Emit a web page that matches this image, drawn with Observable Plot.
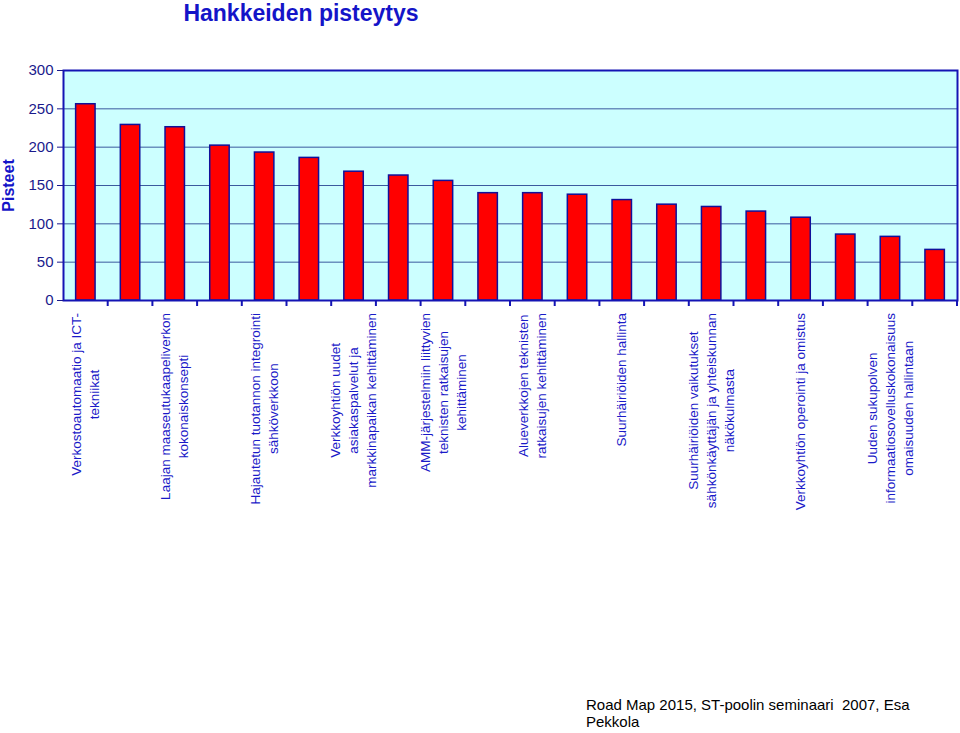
<!DOCTYPE html>
<html><head><meta charset="utf-8">
<script src="https://cdn.jsdelivr.net/npm/d3@7"></script>
<script src="https://cdn.jsdelivr.net/npm/@observablehq/plot@0.6"></script>
<style>
body{margin:0;background:#fff;font-family:Arial,"Liberation Sans",sans-serif;}
#wrap{position:relative;width:960px;height:733px;overflow:hidden;}
#chart{position:absolute;left:0;top:0;}
#title{position:absolute;left:0;width:602px;top:0;text-align:center;font-weight:bold;font-size:23px;color:#1414c8;line-height:26px;}
#caption{position:absolute;left:586px;top:696px;font-size:15px;line-height:17px;color:#000;white-space:pre;}
</style></head>
<body>
<div id="wrap"><div id="chart"></div><div id="title">Hankkeiden pisteytys</div><div id="caption">Road Map 2015, ST-poolin seminaari  2007, Esa
Pekkola</div></div>
<script>
// Project ids (20 bars, sorted by score)
const categories = ["H01","H02","H03","H04","H05","H06","H07","H08","H09","H10",
                    "H11","H12","H13","H14","H15","H16","H17","H18","H19","H20"];
// Scores
const scores = [256, 229, 226, 202, 193, 186, 168, 163, 156, 140,
                140, 138, 131, 125, 122, 116, 108, 86, 83, 66];
// Tick labels (only every other category is labelled in the original)
const tickLabels = [
  "Verkostoautomaatio ja ICT-\ntekniikat", "",
  "Laajan maaseutukaapeliverkon\nkokonaiskonsepti", "",
  "Hajautetun tuotannon integrointi\nsähköverkkoon", "",
  "Verkkoyhtiön uudet\nasiakaspalvelut ja\nmarkkinapaikan kehittäminen", "",
  "AMM-järjestelmiin liittyvien\nteknisten ratkaisujen\nkehittäminen", "",
  "Alueverkkojen teknisten\nratkaisujen kehittäminen", "",
  "Suurhäiriöiden hallinta", "",
  "Suurhäiriöiden vaikutukset\nsähkönkäyttäjän ja yhteiskunnan\nnäkökulmasta", "",
  "Verkkoyhtiön operointi ja omistus", "",
  "Uuden sukupolven\ninformaatiosovelluskokonaisuus\nomaisuuden hallintaan", ""
];
const yTicks = [0, 50, 100, 150, 200, 250, 300];

const data = categories.map((id, i) => ({id, score: scores[i]}));

const BLUE = "#1414b4";
const LABEL_COLOR = "#1a1ac8";
const LABEL_FONT = 13.5;
const LINE_H = 18;
const FONT = "Arial, 'Liberation Sans', sans-serif";

function xLabels(...args) {
  let scales, dimensions;
  if (args[0] && typeof args[0].x === "function") { scales = args[0]; dimensions = args[1]; }
  else { scales = args[1]; dimensions = args[3]; }
  const x = scales.x;
  const bw = x.bandwidth ? x.bandwidth() : 0;
  const step = x.step ? x.step() : bw;
  const yAxis = dimensions.height - dimensions.marginBottom;
  const ctx = document.createElement("canvas").getContext("2d");
  ctx.font = `${LABEL_FONT}px Arial, 'Liberation Sans', sans-serif`;
  const g = d3.create("svg:g");
  // separator ticks between categories
  const first = x(categories[0]) - (step - bw) / 2;
  const ticks = g.append("g").attr("stroke", BLUE).attr("stroke-width", 2);
  for (let i = 1; i <= categories.length; i++) {
    const xb = first + i * step;
    ticks.append("line").attr("x1", xb).attr("x2", xb).attr("y1", yAxis).attr("y2", yAxis + 6);
  }
  const tg = g.append("g").attr("font-family", FONT).attr("font-size", LABEL_FONT)
    .attr("fill", LABEL_COLOR).attr("text-anchor", "middle");
  const y0 = yAxis + 13;
  categories.forEach((c, i) => {
    const lab = tickLabels[i];
    if (!lab) return;
    const lines = lab.split("\n");
    const maxLen = d3.max(lines, l => ctx.measureText(l).width);
    const cx = x(c) + bw / 2;
    const t = tg.append("text").attr("transform", `translate(${cx},${y0}) rotate(-90)`);
    lines.forEach((l, j) => {
      t.append("tspan").attr("x", -maxLen / 2)
        .attr("y", (j - (lines.length - 1) / 2) * LINE_H).attr("dy", "0.35em").text(l);
    });
  });
  return g.node();
}

const chart = Plot.plot({
  width: 960,
  height: 520,
  marginTop: 70,
  marginBottom: 220,
  marginLeft: 63,
  marginRight: 3,
  style: {fontFamily: FONT, background: "transparent"},
  x: {domain: categories, axis: null, paddingInner: 0.565, paddingOuter: 0.2825, round: false},
  y: {domain: [0, 300]},
  marks: [
    Plot.frame({fill: "#ccffff", stroke: "none"}),
    Plot.gridY({ticks: yTicks, stroke: "#3b5a9e", strokeOpacity: 1, strokeWidth: 1}),
    Plot.barY(data, {x: "id", y: "score", fill: "#ff0000", stroke: "#10109a", strokeWidth: 1.5}),
    Plot.frame({stroke: BLUE, strokeWidth: 2}),
    Plot.axisY({ticks: yTicks, tickSize: 6, tickPadding: 4, fontSize: 15, color: "#1a1a8c", label: null}),
    Plot.text(["Pisteet"], {text: d => d, frameAnchor: "left", rotate: -90, dx: -55,
      textAnchor: "middle", lineAnchor: "middle", fontWeight: "bold", fontSize: 16, fill: "#1414c8"}),
    xLabels
  ]
});
document.getElementById("chart").appendChild(chart);
</script>
</body></html>
